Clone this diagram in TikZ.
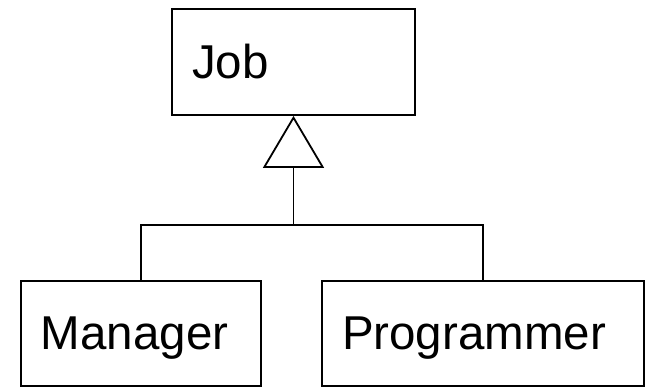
\documentclass[tikz,border=0pt]{standalone}
\usepackage{fontspec}
\setmainfont{Liberation Sans}
\usetikzlibrary{arrows.meta}
\begin{document}
\begin{tikzpicture}[x=1pt,y=-1pt,
  cls/.style={draw, line width=1.8pt, rectangle, minimum height=105pt,
    inner xsep=20pt, inner ysep=0pt, align=left,
    font=\fontsize{47.5}{47.5}\selectfont, text height=33pt, text depth=0pt},
  link/.style={line width=1.8pt}]
\useasboundingbox (0,0) rectangle (646,387);
\node[cls, text width=203pt, minimum height=106pt] (Job) at (293.5,62) {Job};
\node[cls, text width=200pt] (Manager) at (141,333.5) {Manager};
\node[cls, text width=282pt] (Programmer) at (483,333.5) {Programmer};
\coordinate (bar) at (0,225);
\coordinate (join) at (Job.south |- bar);
\draw[link] (Manager.north) |- (join) -| (Programmer.north);
\draw[link, -{Triangle[open, length=52pt, width=61pt]}] (join) -- (Job.south);
\end{tikzpicture}
\end{document}
